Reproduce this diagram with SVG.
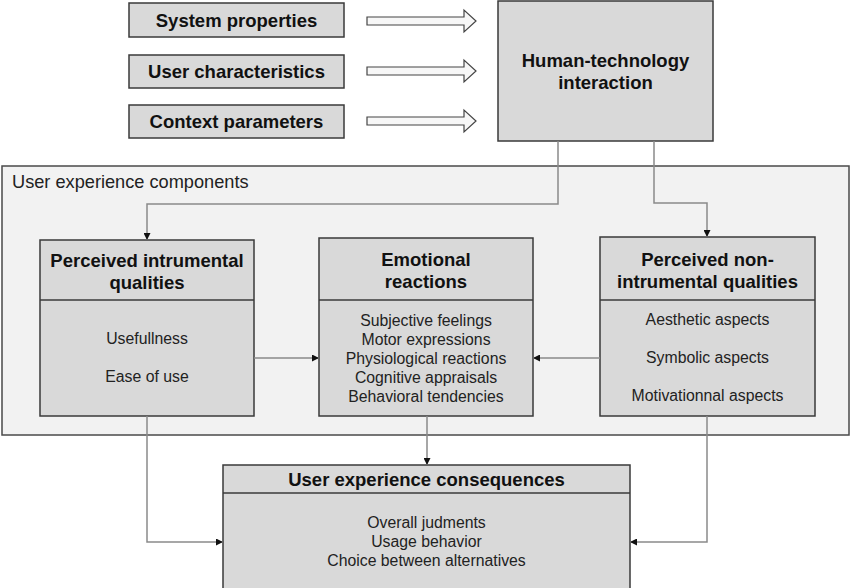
<svg xmlns="http://www.w3.org/2000/svg" width="850" height="588" viewBox="0 0 850 588">
<defs>
<style>
.box{fill:#d9d9d9;stroke:#3a3a3a;stroke-width:1.5}
.cont{fill:#f2f2f2;stroke:#4a4a4a;stroke-width:1.5}
.b{font-family:"Liberation Sans",Arial,sans-serif;font-weight:bold;font-size:18.5px;fill:#111;text-anchor:middle}
.t{font-family:"Liberation Sans",Arial,sans-serif;font-size:15.8px;fill:#222;text-anchor:middle}
.c{fill:none;stroke:#8a8a8a;stroke-width:1.5}
.ba{fill:#f7f7f7;stroke:#444;stroke-width:1.2}
</style>
<marker id="ah" viewBox="0 0 10 10" refX="10" refY="5" markerWidth="7" markerHeight="7" markerUnits="userSpaceOnUse" orient="auto">
<path d="M0,0 L10,5 L0,10 z" fill="#111"/>
</marker>
</defs>
<rect width="850" height="588" fill="#fff"/>

<g id="container">
<rect class="cont" x="2" y="166" width="847" height="269"/>
<text x="12" y="188" font-family="Liberation Sans,Arial,sans-serif" font-size="18.2" fill="#222">User experience components</text>
</g>

<g id="system-properties">
<rect class="box" x="129" y="3" width="215" height="34"/>
<text class="b" x="236.5" y="27">System properties</text>
</g>
<g id="user-characteristics">
<rect class="box" x="129" y="55" width="215" height="33"/>
<text class="b" x="236.5" y="78">User characteristics</text>
</g>
<g id="context-parameters">
<rect class="box" x="129" y="105" width="215" height="33"/>
<text class="b" x="236.5" y="128">Context parameters</text>
</g>

<g id="block-arrows">
<path class="ba" d="M367,17 L464,17 L464,10 L476,21 L464,32 L464,25 L367,25 z"/>
<path class="ba" d="M367,67 L464,67 L464,60 L476,71 L464,82 L464,75 L367,75 z"/>
<path class="ba" d="M367,117 L464,117 L464,110 L476,121 L464,132 L464,125 L367,125 z"/>
</g>

<g id="human-technology-interaction">
<rect class="box" x="498" y="1" width="215" height="140"/>
<text class="b" x="605.5" y="67">Human-technology</text>
<text class="b" x="605.5" y="89">interaction</text>
</g>

<g id="perceived-instrumental">
<rect class="box" x="40" y="240" width="214" height="176"/>
<line x1="40" y1="300" x2="254" y2="300" stroke="#3a3a3a" stroke-width="1.5"/>
<text class="b" x="147" y="267">Perceived intrumental</text>
<text class="b" x="147" y="289">qualities</text>
<text class="t" x="147" y="344">Usefullness</text>
<text class="t" x="147" y="382">Ease of use</text>
</g>

<g id="emotional-reactions">
<rect class="box" x="319" y="238" width="214" height="178"/>
<line x1="319" y1="300" x2="533" y2="300" stroke="#3a3a3a" stroke-width="1.5"/>
<text class="b" x="426" y="266">Emotional</text>
<text class="b" x="426" y="288">reactions</text>
<text class="t" x="426" y="326">Subjective feelings</text>
<text class="t" x="426" y="345">Motor expressions</text>
<text class="t" x="426" y="364">Physiological reactions</text>
<text class="t" x="426" y="383">Cognitive appraisals</text>
<text class="t" x="426" y="402">Behavioral tendencies</text>
</g>

<g id="perceived-non-instrumental">
<rect class="box" x="600" y="237" width="215" height="179"/>
<line x1="600" y1="300" x2="815" y2="300" stroke="#3a3a3a" stroke-width="1.5"/>
<text class="b" x="707.5" y="266">Perceived non-</text>
<text class="b" x="707.5" y="288">intrumental qualities</text>
<text class="t" x="707.5" y="325">Aesthetic aspects</text>
<text class="t" x="707.5" y="363">Symbolic aspects</text>
<text class="t" x="707.5" y="401">Motivationnal aspects</text>
</g>

<g id="ux-consequences">
<rect class="box" x="223" y="465" width="407" height="130"/>
<line x1="223" y1="493" x2="630" y2="493" stroke="#3a3a3a" stroke-width="1.5"/>
<text class="b" x="426.5" y="486">User experience consequences</text>
<text class="t" x="426.5" y="528">Overall judments</text>
<text class="t" x="426.5" y="547">Usage behavior</text>
<text class="t" x="426.5" y="566">Choice between alternatives</text>
</g>

<g id="connectors">
<path class="c" d="M558,141 L558,204 L147,204 L147,240" marker-end="url(#ah)"/>
<path class="c" d="M654,141 L654,203 L707,203 L707,237" marker-end="url(#ah)"/>
<path class="c" d="M254,358 L319,358" marker-end="url(#ah)"/>
<path class="c" d="M600,358 L533,358" marker-end="url(#ah)"/>
<path class="c" d="M427,416 L427,465" marker-end="url(#ah)"/>
<path class="c" d="M147,416 L147,542 L223,542" marker-end="url(#ah)"/>
<path class="c" d="M707,416 L707,542 L630,542" marker-end="url(#ah)"/>
</g>
</svg>
